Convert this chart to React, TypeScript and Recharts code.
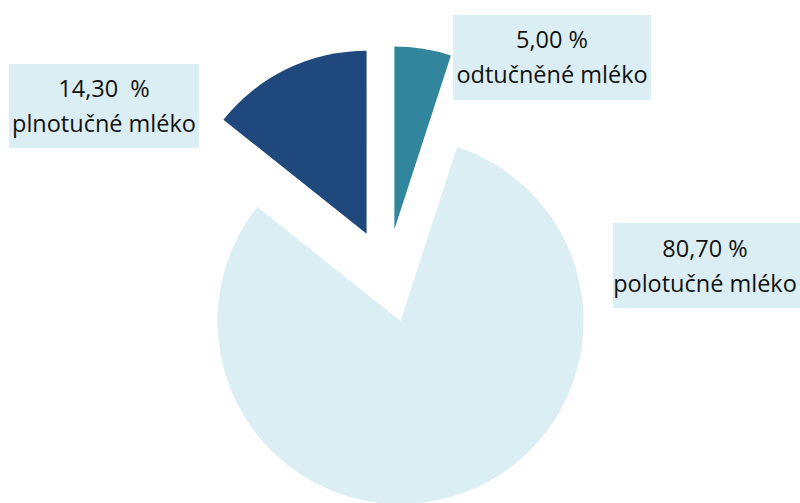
import { PieChart, Pie, Cell, Sector } from "recharts";

// categories in clockwise order starting from 12 o'clock
const categories = ["odtučněné mléko", "polotučné mléko", "plnotučné mléko"];
const shares = [5.0, 80.7, 14.3];
const shareLabels = ["5,00 %", "80,70 %", "14,30  %"];
const colors = ["#31859C", "#DBEEF3", "#1F497D"];

const data = categories.map((name, i) => ({ name, value: shares[i] }));

const RAD = Math.PI / 180;
const EXPLODE = 47;

// label box placement (layout only)
const boxes = [
  { x: 453, y: 15, w: 198, h: 85, tx: 552, b1: 48, b2: 83 },
  { x: 613, y: 223, w: 187, h: 85, tx: 705, b1: 257, b2: 292 },
  { x: 9, y: 64, w: 190, h: 84, tx: 104, b1: 97, b2: 132 },
];

const font = "'Open Sans', sans-serif";

function renderSlice(props: any) {
  const { cx, cy, midAngle, innerRadius, outerRadius, startAngle, endAngle, index } = props;
  const dx = EXPLODE * Math.cos(-midAngle * RAD);
  const dy = EXPLODE * Math.sin(-midAngle * RAD);
  const box = boxes[index];
  return (
    <g key={`slice-${index}`}>
      <Sector
        cx={cx + dx}
        cy={cy + dy}
        innerRadius={innerRadius}
        outerRadius={outerRadius}
        startAngle={startAngle}
        endAngle={endAngle}
        fill={colors[index]}
        stroke="none"
      />
      <rect x={box.x} y={box.y} width={box.w} height={box.h} fill="#DBEEF3" />
      <text
        x={box.tx}
        y={box.b1}
        textAnchor="middle"
        fontFamily={font}
        fontSize={23.5}
        fill="#111"
        style={{ whiteSpace: "pre" }}
      >
        {shareLabels[index]}
      </text>
      <text x={box.tx} y={box.b2} textAnchor="middle" fontFamily={font} fontSize={23.5} fill="#111">
        {categories[index]}
      </text>
    </g>
  );
}

export default function App() {
  return (
    <div style={{ position: "absolute", left: 0, top: 0, width: 800, height: 503, background: "#fff" }}>
      <PieChart width={800} height={503} margin={{ top: 0, right: 0, bottom: 0, left: 0 }}>
        <Pie
          data={data}
          dataKey="value"
          nameKey="name"
          cx={387}
          cy={276}
          outerRadius={183}
          startAngle={90}
          endAngle={-270}
          stroke="none"
          label={renderSlice}
          labelLine={false}
          isAnimationActive={false}
        >
          {data.map((d) => (
            <Cell key={d.name} fill="transparent" />
          ))}
        </Pie>
      </PieChart>
    </div>
  );
}
